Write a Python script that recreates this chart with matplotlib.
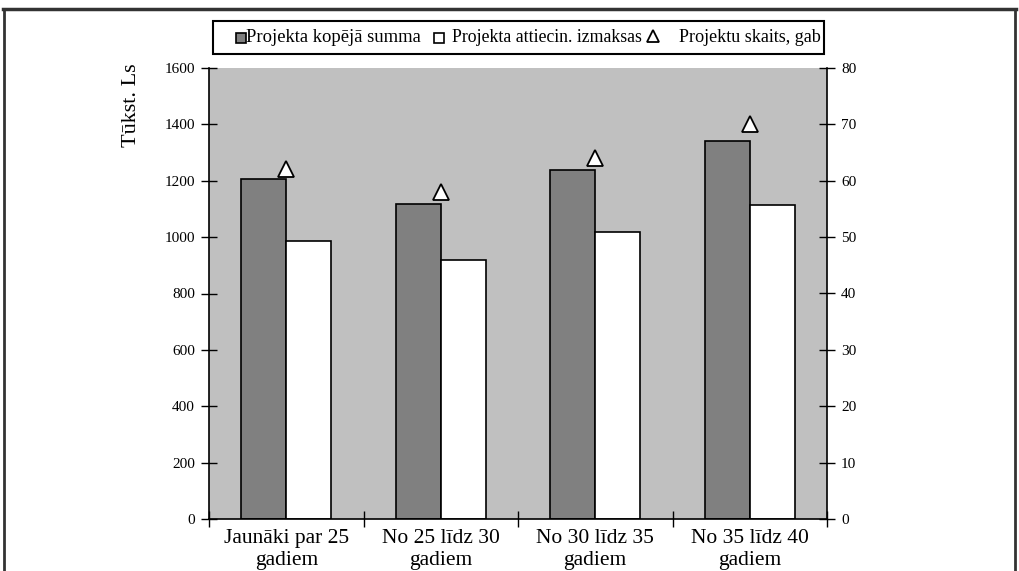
import matplotlib
matplotlib.use("Agg")
import matplotlib.pyplot as plt
from matplotlib.lines import Line2D
from matplotlib.patches import Rectangle
import numpy as np

categories = ["Jaunāki par 25\ngadiem", "No 25 līdz 30\ngadiem", "No 30 līdz 35\ngadiem", "No 35 līdz 40\ngadiem"]
total_sum = [1206, 1117, 1238, 1341]
eligible_costs = [986, 919, 1018, 1114]
project_count = [62, 58, 64, 70]
left_ticks = [0, 200, 400, 600, 800, 1000, 1200, 1400, 1600]
right_ticks = [0, 10, 20, 30, 40, 50, 60, 70, 80]
legend_labels = ["Projekta kopējā summa", "Projekta attiecin. izmaksas", "Projektu skaits, gab"]

plt.rcParams['font.family'] = ['Liberation Serif', 'DejaVu Serif']

fig = plt.figure(figsize=(10.19, 5.71), dpi=100)
W, H = 1019, 571
ax = fig.add_axes([209 / W, 1 - 519 / H, (827 - 209) / W, (519 - 68) / H])
ax.set_facecolor('#c0c0c0')

x = np.arange(len(categories)) + 0.5
bw = 0.29
ax.bar(x - bw / 2, total_sum, bw, color='#808080', edgecolor='black', linewidth=1.2, zorder=2)
ax.bar(x + bw / 2, eligible_costs, bw, color='white', edgecolor='black', linewidth=1.2, zorder=2)
ax.set_xlim(0, 4)
ax.set_ylim(0, 1600)
ax.set_yticks(left_ticks)
ax.set_xticks([0, 1, 2, 3, 4])
ax.set_xticklabels([])
ax.tick_params(axis='x', length=12, direction='inout', width=1)
ax.tick_params(axis='y', labelsize=11, length=12, direction='inout', width=1, pad=4)
ax.spines['top'].set_visible(False)
ax.spines['right'].set_visible(False)
ax.spines['left'].set_linewidth(1.2)
ax.spines['bottom'].set_linewidth(1.2)

for xi, lab in zip(x, categories):
    ax.text(xi, -0.022 * 1600, lab, ha='center', va='top', fontsize=15.5, linespacing=1.2)

ax2 = ax.twinx()
ax2.plot(x, project_count, linestyle='none', marker='^', markersize=11.5,
         markerfacecolor='white', markeredgecolor='black', markeredgewidth=1.3, zorder=3)
ax2.set_ylim(0, 80)
ax2.set_yticks(right_ticks)
ax2.tick_params(axis='y', labelsize=11, length=12, direction='inout', width=1, pad=4)
for s in ['top', 'left', 'bottom']:
    ax2.spines[s].set_visible(False)
ax2.spines['right'].set_linewidth(1.2)

fig.text(131 / W, 1 - 105 / H, "Tūkst. Ls", rotation=90, ha='center', va='center', fontsize=16)

# legend (manual layout)
fig.add_artist(Rectangle((213 / W, 1 - 54 / H), (824 - 213) / W, (54 - 21) / H, transform=fig.transFigure,
                         facecolor='white', edgecolor='black', linewidth=1.5))
ly = 1 - 37.5 / H
fig.add_artist(Line2D([240.5 / W], [ly], transform=fig.transFigure, linestyle='none', marker='s', markersize=7.8,
                      markerfacecolor='#808080', markeredgecolor='black', markeredgewidth=1.2))
fig.text(246.5 / W, ly, legend_labels[0], ha='left', va='center', fontsize=13.4)
fig.add_artist(Line2D([438.5 / W], [ly], transform=fig.transFigure, linestyle='none', marker='s', markersize=7.8,
                      markerfacecolor='white', markeredgecolor='black', markeredgewidth=1.2))
fig.text(452 / W, ly, legend_labels[1], ha='left', va='center', fontsize=12.8)
fig.add_artist(Line2D([652.5 / W], [ly + 0.002], transform=fig.transFigure, linestyle='none', marker='^', markersize=9,
                      markerfacecolor='white', markeredgecolor='black', markeredgewidth=1.3))
fig.text(679 / W, ly, legend_labels[2], ha='left', va='center', fontsize=13.1)

# outer frame
fig.add_artist(Line2D([3 / W, 1016 / W], [1 - 9 / H, 1 - 9 / H], color='#333333', linewidth=2.5, transform=fig.transFigure))
fig.add_artist(Line2D([4 / W, 4 / W], [1 - 9 / H, 0], color='#333333', linewidth=2, transform=fig.transFigure))
fig.add_artist(Line2D([1015 / W, 1015 / W], [1 - 9 / H, 0], color='#333333', linewidth=2, transform=fig.transFigure))

fig.savefig("out.png", dpi=100)
